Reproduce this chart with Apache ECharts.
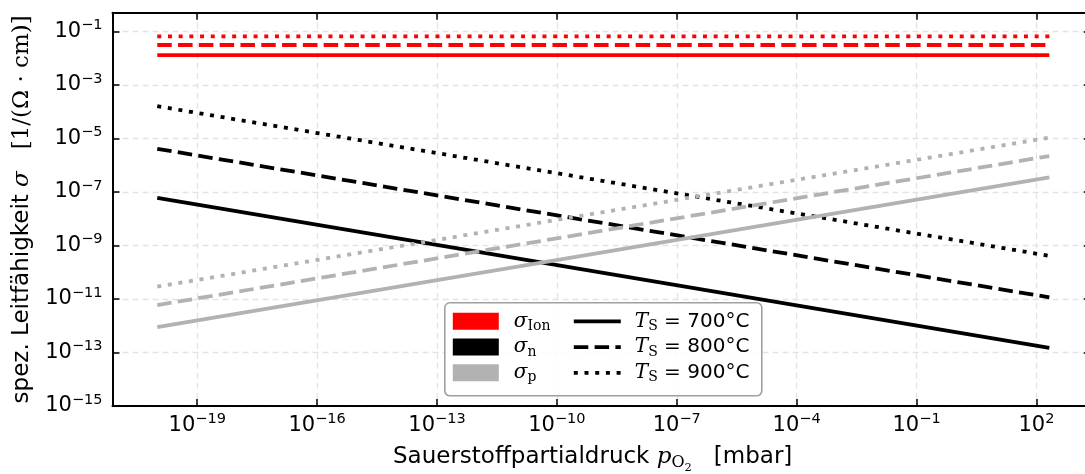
<!DOCTYPE html>
<html>
<head>
<meta charset="utf-8">
<script src="https://cdn.jsdelivr.net/npm/echarts@6/dist/echarts.min.js"></script>
<style>
  html, body { margin: 0; padding: 0; background: #fff; }
  #chart { width: 1085px; height: 474px; }
</style>
</head>
<body>
<div id="chart"></div>
<script>
// Oxygen partial pressure range covered by every curve [mbar]
const pO2Range = [1e-20, 210];
// Sintering temperatures [°C]
const temperatures = ['700', '800', '900'];
// Ionic conductivity, independent of pO2 [1/(Ω·cm)]
const sigmaIon = [0.013, 0.031, 0.065];
// n-type electronic conductivity at lowest / highest pO2
const sigmaNLow = [6.0e-8, 4.1e-6, 1.6e-4];
const sigmaNHigh = [1.5e-13, 1.15e-11, 4.1e-10];
// p-type electronic conductivity at lowest / highest pO2
const sigmaPLow = [8.9e-13, 5.9e-12, 2.9e-11];
const sigmaPHigh = [3.5e-7, 2.2e-6, 1.07e-5];
// Labelled decades on both axes
const xTickExponents = [-19, -16, -13, -10, -7, -4, -1, 2];
const yTickExponents = [-1, -3, -5, -7, -9, -11, -13, -15];

const SANS = 'DejaVu Sans';
const SERIF = 'DejaVu Serif';
const RED = '#ff0000';
const BLACK = '#000000';
const GRAY = '#b2b2b2';
const LINE_W = 3.8;
const DASHES = ['solid', [14.5, 6.3], [4, 6.7]];

const xMin = Math.pow(10, -21.12), xMax = Math.pow(10, 3.36);
const yMin = 1e-15, yMax = 0.5;
const xTicks = xTickExponents.map(e => Math.pow(10, e));
const yTicks = yTickExponents.map(e => Math.pow(10, e));

// "10" with a raised exponent
const powRich = {
  b: { fontFamily: SANS, fontSize: 21, lineHeight: 27, color: '#000' },
  s: { fontFamily: SANS, fontSize: 14.5, lineHeight: 14, verticalAlign: 'top', color: '#000' }
};
function powLabel(v) {
  const e = Math.round(Math.log10(v));
  return '{b|10}{s|' + String(e).replace('-', '\u2212') + '}';
}

const tickStyle = { show: true, inside: true, length: 7, lineStyle: { color: '#000', width: 1.5 } };
const gridLineStyle = { show: true, lineStyle: { color: '#e3e3e3', width: 1.3, type: [6, 4] } };
const spine = { show: true, onZero: false, lineStyle: { color: '#000', width: 2 } };

const series = [];
function addLine(name, color, i, y0, y1) {
  series.push({
    name: name + ' ' + temperatures[i],
    type: 'line',
    xAxisIndex: 0, yAxisIndex: 0,
    symbol: 'none', silent: true,
    lineStyle: { color: color, width: LINE_W, type: DASHES[i], cap: 'butt' },
    data: [[pO2Range[0], y0], [pO2Range[1], y1]]
  });
}
for (let i = 0; i < 3; i++) addLine('σIon', RED, i, sigmaIon[i], sigmaIon[i]);
for (let i = 0; i < 3; i++) addLine('σn', BLACK, i, sigmaNLow[i], sigmaNHigh[i]);
for (let i = 0; i < 3; i++) addLine('σp', GRAY, i, sigmaPLow[i], sigmaPHigh[i]);

// Legend: colour patches for the conductivity type, line styles for temperature
const LZ = 100;
const legendRows = [18.5, 44.3, 70];
const legendColors = [RED, BLACK, GRAY];
const legendSubs = ['Ion', 'n', 'p'];
const legendRich = {
  m: { fontFamily: SERIF, fontStyle: 'italic', fontSize: 20, lineHeight: 24, fill: '#000' },
  sub: { fontFamily: SERIF, fontSize: 14, lineHeight: 14, verticalAlign: 'bottom', fill: '#000' },
  t: { fontFamily: SANS, fontSize: 20, lineHeight: 24, fill: '#000' }
};
const legendChildren = [{
  type: 'rect', z: LZ,
  shape: { x: 0, y: 0, width: 317, height: 93, r: 5 },
  style: { fill: 'rgba(255,255,255,0.85)', stroke: '#a0a0a0', lineWidth: 1.6 }
}];
for (let i = 0; i < 3; i++) {
  legendChildren.push({
    type: 'rect', z: LZ + 1,
    shape: { x: 8, y: legendRows[i] - 8.5, width: 46, height: 17 },
    style: { fill: legendColors[i] }
  });
  legendChildren.push({
    type: 'text', z: LZ + 1,
    style: {
      x: 69, y: legendRows[i], verticalAlign: 'middle',
      text: '{m|σ}{sub|' + legendSubs[i] + '}', rich: legendRich
    }
  });
  legendChildren.push({
    type: 'line', z: LZ + 1,
    shape: { x1: 129, y1: legendRows[i], x2: 176, y2: legendRows[i] },
    style: { stroke: BLACK, lineWidth: LINE_W, lineDash: DASHES[i] === 'solid' ? null : DASHES[i], lineCap: 'butt' }
  });
  legendChildren.push({
    type: 'text', z: LZ + 1,
    style: {
      x: 190, y: legendRows[i], verticalAlign: 'middle',
      text: '{m|T}{sub|S}{t| = ' + temperatures[i] + '°C}', rich: legendRich
    }
  });
}

const titleRich = {
  a: { fontFamily: SANS, fontSize: 23, lineHeight: 28, color: '#000' },
  m: { fontFamily: SERIF, fontStyle: 'italic', fontSize: 23, lineHeight: 28, color: '#000' },
  r: { fontFamily: SERIF, fontSize: 23, lineHeight: 28, color: '#000' },
  o: { fontFamily: SERIF, fontSize: 16, lineHeight: 16, verticalAlign: 'bottom', color: '#000' },
  d: { fontFamily: SERIF, fontSize: 11.5, lineHeight: 11, verticalAlign: 'bottom', padding: [0, 0, -3, 0], color: '#000' }
};

const option = {
  animation: false,
  backgroundColor: '#fff',
  grid: { left: 112.5, top: 12.7, width: 978.3, height: 393.3, containLabel: false, outerBoundsMode: 'none' },
  xAxis: [{
    type: 'log', logBase: 10, min: xMin, max: xMax, position: 'bottom',
    axisLine: spine,
    axisTick: Object.assign({ customValues: xTicks }, tickStyle),
    minorTick: { show: false },
    axisLabel: { customValues: xTicks, formatter: powLabel, rich: powRich, margin: 6 },
    splitLine: gridLineStyle,
    name: '{a|Sauerstoffpartialdruck }{m|p}{o|O}{d|2}{a|   [mbar]}',
    nameLocation: 'middle', nameGap: 37,
    nameTextStyle: { padding: [0, 18, 0, 0], rich: titleRich }
  }, {
    type: 'log', logBase: 10, min: xMin, max: xMax, position: 'top',
    axisLine: spine,
    axisTick: Object.assign({ customValues: xTicks }, tickStyle),
    minorTick: { show: false },
    axisLabel: { show: false },
    splitLine: { show: false }
  }],
  yAxis: [{
    type: 'log', logBase: 10, min: yMin, max: yMax, position: 'left',
    axisLine: spine,
    axisTick: Object.assign({ customValues: yTicks }, tickStyle),
    minorTick: { show: false },
    axisLabel: { customValues: yTicks, formatter: powLabel, rich: powRich, margin: 10 },
    splitLine: gridLineStyle,
    name: '{a|spez. Leitfähigkeit }{m|σ}{r|   [1/(Ω · cm)]}',
    nameLocation: 'middle', nameGap: 76, nameRotate: 90,
    nameTextStyle: { padding: [0, 0, 0, 0], rich: titleRich }
  }, {
    type: 'log', logBase: 10, min: yMin, max: yMax, position: 'right',
    axisLine: spine,
    axisTick: Object.assign({ customValues: yTicks }, tickStyle),
    minorTick: { show: false },
    axisLabel: { show: false },
    splitLine: { show: false }
  }],
  series: series,
  graphic: [{ type: 'group', left: 444, top: 302, z: LZ, children: legendChildren }]
};

const chart = echarts.init(document.getElementById('chart'), null, { renderer: 'canvas' });
chart.setOption(option);
</script>
</body>
</html>
